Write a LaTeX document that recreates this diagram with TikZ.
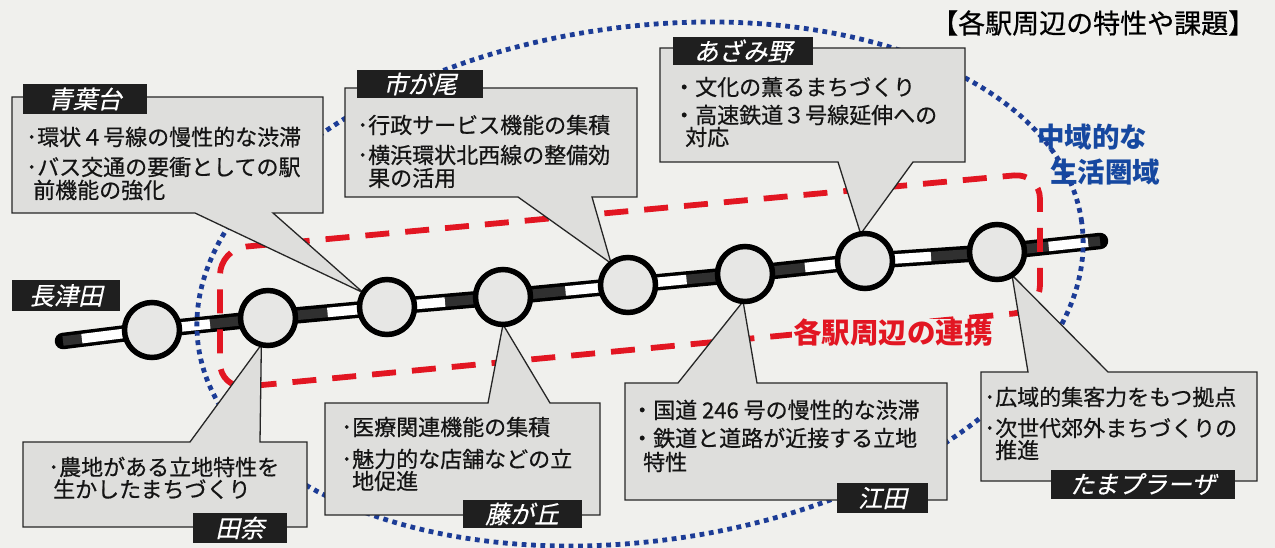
\documentclass[tikz,border=0pt]{standalone}
\usepackage{fontspec}
\setmainfont{Noto Sans CJK JP}
\newfontfamily\jpi[FakeSlant=0.22,FakeBold=0.4]{Noto Sans CJK JP}
\newfontfamily\jpm[FakeBold=0.6]{Noto Sans CJK JP}
\usetikzlibrary{calc}
\pgfdeclarelayer{back}
\pgfdeclarelayer{mid}
\pgfsetlayers{back,mid,main}
\definecolor{pagebg}{RGB}{240,240,237}
\definecolor{boxfill}{RGB}{222,222,220}
\definecolor{stfill}{RGB}{231,231,229}
\definecolor{raildark}{RGB}{48,48,48}
\definecolor{redline}{RGB}{226,22,34}
\definecolor{bluedot}{RGB}{28,60,150}
\definecolor{bluetext}{RGB}{22,72,160}
\begin{document}
\begin{tikzpicture}[x=1pt,y=-1pt,
  station/.style={circle,draw=black,line width=5.5pt,fill=stfill,minimum size=55pt,inner sep=0pt,outer sep=0pt},
  callout/.style={fill=boxfill,draw=black!85,line width=1.3pt,line join=miter},
  tab/.style={fill=black!88,text=white,font=\jpi\fontsize{24.5}{24.5}\selectfont,inner sep=0pt,anchor=center},
  body/.style={font=\jpm\fontsize{22}{22}\selectfont,anchor=west,inner sep=0pt,text=black!92},
  railout/.style={draw=black,line width=16.5pt},
  railin/.style={line width=9.5pt},
  bluedots/.style={draw=bluedot,line width=4.8pt,dash pattern=on 4.8pt off 4.6pt},
  reddash/.style={draw=redline,line width=5.8pt,dash pattern=on 24pt off 16pt},
  bluelab/.style={font=\bfseries\fontsize{27.5}{27.5}\selectfont,text=bluetext,anchor=west,inner sep=0pt}
]
\useasboundingbox (0,0) rectangle (1275,548);
% stations
\node[station] (s1) at (152,330) {};
\node[station] (s2) at (268,318) {};
\node[station] (s3) at (387,307) {};
\node[station] (s4) at (503,297) {};
\node[station] (s5) at (628,285) {};
\node[station] (s6) at (745,274) {};
\node[station] (s7) at (865,261) {};
\node[station] (s8) at (997,252) {};
\coordinate (L) at (63,341);
\coordinate (R) at (1100,241);

\begin{pgfonlayer}{back}
\fill[pagebg] (0,0) rectangle (1275,548);
% rail
\draw[railout,line cap=round] (L) -- (s1.center) -- (s2.center) -- (s3.center) -- (s4.center) -- (s5.center) -- (s6.center) -- (s7.center) -- (s8.center) -- (R);
\draw[railin,draw=raildark] (L) -- (s1.center) -- (s2.center) -- (s3.center) -- (s4.center) -- (s5.center) -- (s6.center) -- (s7.center) -- (s8.center) -- (R);
\draw[railin,draw=white] ($(L)!19pt!(s1)$) -- (s1.center);
\draw[railin,draw=white] (s1.center) -- ($(s1)!0.5!(s2)$);
\draw[railin,draw=white] ($(s2)!0.5!(s3)$) -- (s3.center);
\draw[railin,draw=white] (s3.center) -- ($(s3)!0.5!(s4)$);
\draw[railin,draw=white] ($(s4)!0.5!(s5)$) -- (s5.center);
\draw[railin,draw=white] (s5.center) -- ($(s5)!0.5!(s6)$);
\draw[railin,draw=white] ($(s6)!0.5!(s7)$) -- (s7.center);
\draw[railin,draw=white] (s7.center) -- ($(s7)!0.5!(s8)$);
\draw[railin,draw=white] ($(s8)!52pt!(R)$) -- ($(R)!12pt!(s8)$);
% wide-area ellipse
\draw[bluedots,rotate around={8:(640,284)}] (640,284) ellipse [x radius=446pt, y radius=257pt];
% red linkage frame
\draw[reddash,rounded corners=26pt] (220,249) -- (1040,173) -- (1040,311) -- (220,389) -- cycle;
\end{pgfonlayer}

\begin{pgfonlayer}{mid}
\filldraw[callout] (12,97) -- (323,97) -- (323,213) -- (273,213) -- (s3.149) -- (195,213) -- (12,213) -- cycle;
\filldraw[callout] (345,88) -- (637,88) -- (637,197) -- (592,197) -- (s5.128) -- (518,197) -- (345,197) -- cycle;
\filldraw[callout] (660,48) -- (965,48) -- (965,162) -- (913,162) -- (s7.99) -- (838,162) -- (660,162) -- cycle;
\filldraw[callout] (23,442) -- (190,442) -- (s2.256) -- (260,442) -- (307,442) -- (307,527) -- (23,527) -- cycle;
\filldraw[callout] (325,403) -- (488,403) -- (s4.270) -- (550,403) -- (600,403) -- (600,515) -- (325,515) -- cycle;
\filldraw[callout] (625,383) -- (678,383) -- (s6.266) -- (757,383) -- (947,383) -- (947,500) -- (625,500) -- cycle;
\filldraw[callout] (981,372) -- (1028,372) -- (s8.303) -- (1108,372) -- (1257,372) -- (1257,481) -- (981,481) -- cycle;
\end{pgfonlayer}

% tabs
\node[tab,minimum width=124pt,minimum height=30pt] (tA) at (85,99) {青葉台};
\node[tab,minimum width=126pt,minimum height=28pt] (tB) at (420,84) {市が尾};
\node[tab,minimum width=140pt,minimum height=28pt] (tC) at (743,51) {あざみ野};
\node[tab,minimum width=108pt,minimum height=31pt] (tN) at (66,295.5) {長津田};
\node[tab,minimum width=94pt,minimum height=30pt] (tD) at (240,528) {田奈};
\node[tab,minimum width=119pt,minimum height=28pt] (tE) at (522,514) {藤が丘};
\node[tab,minimum width=91pt,minimum height=30pt] (tF) at (882.5,498) {江田};
\node[tab,minimum width=184pt,minimum height=29pt] (tG) at (1143,484) {たまプラーザ};

% body texts
\node[body] (a1) at (26,137) {･環状４号線の慢性的な渋滞};
\node[body] (a2) at (26,167) {･バス交通の要衝としての駅};
\node[body] (a3) at (33,190) {前機能の強化};
\node[body] (b1) at (357,125) {･行政サービス機能の集積};
\node[body] (b2) at (357,155) {･横浜環状北西線の整備効};
\node[body] (b3) at (368,178) {果の活用};
\node[body] (c1) at (673,87) {・文化の薫るまちづくり};
\node[body] (c2) at (673,115) {・高速鉄道３号線延伸への};
\node[body] (c3) at (685,137) {対応};
\node[body] (d1) at (48,467) {･農地がある立地特性を};
\node[body] (d2) at (53,489) {生かしたまちづくり};
\node[body] (e1) at (341,427) {･医療関連機能の集積};
\node[body] (e2) at (341,459) {･魅力的な店舗などの立};
\node[body] (e3) at (352,481) {地促進};
\node[body] (f1) at (631,410) {・国道 246 号の慢性的な渋滞};
\node[body] (f2) at (631,438) {・鉄道と道路が近接する立地};
\node[body] (f3) at (643,462) {特性};
\node[body] (g1) at (984,397) {･広域的集客力をもつ拠点};
\node[body] (g2) at (984,428) {･次世代郊外まちづくりの};
\node[body] (g3) at (995,450) {推進};

% labels
\node[font=\jpm\fontsize{27}{27}\selectfont,anchor=west,inner sep=0pt] (ttl) at (931,23) {【各駅周辺の特性や課題】};
\node[bluelab] (m1) at (1037,137) {中域的な};
\node[bluelab] (m2) at (1050,172) {生活圏域};
\node[font=\bfseries\fontsize{28.5}{28.5}\selectfont,text=redline,fill=pagebg,inner xsep=1pt,inner ysep=0pt,anchor=west] (lk) at (792,333) {各駅周辺の連携};
\end{tikzpicture}
\end{document}
